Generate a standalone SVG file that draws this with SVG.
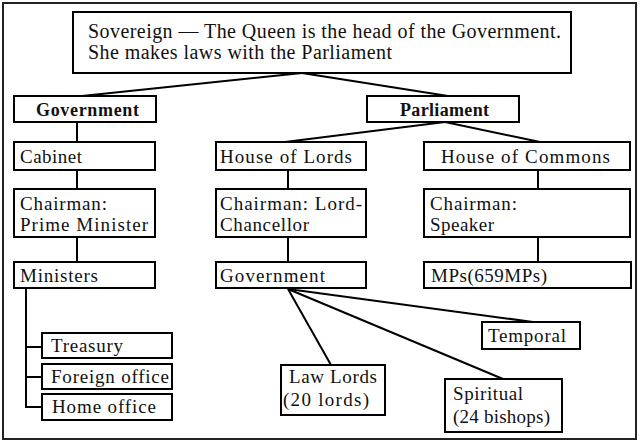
<svg xmlns="http://www.w3.org/2000/svg" width="640" height="447" viewBox="0 0 640 447">
<style>
.b{fill:#fff;stroke:#000;stroke-width:2}
.t{font-family:"Liberation Serif","Times New Roman",serif;font-size:19px;fill:#111}
.h{font-family:"Liberation Serif","Times New Roman",serif;font-size:18px;font-weight:bold;fill:#111}
.s{font-family:"Liberation Serif","Times New Roman",serif;font-size:20px;fill:#111}
.c{stroke:#000;stroke-width:2;fill:none}
</style>
<rect x="0" y="0" width="640" height="447" fill="#fff"/>
<rect x="3" y="3" width="633" height="436" fill="none" stroke="#222" stroke-width="2"/>
<g id="connectors">
<line class="c" x1="302" y1="73" x2="82" y2="96"/>
<line class="c" x1="302" y1="73" x2="448" y2="96"/>
<line class="c" x1="77" y1="122" x2="77" y2="142"/>
<line class="c" x1="445" y1="122" x2="285" y2="142"/>
<line class="c" x1="445" y1="122" x2="540" y2="142"/>
<line class="c" x1="77" y1="170" x2="77" y2="189"/>
<line class="c" x1="288" y1="170" x2="288" y2="189"/>
<line class="c" x1="538" y1="170" x2="538" y2="189"/>
<line class="c" x1="77" y1="237" x2="77" y2="262"/>
<line class="c" x1="288" y1="237" x2="288" y2="262"/>
<line class="c" x1="538" y1="237" x2="538" y2="262"/>
<polyline class="c" points="26,288 26,407 42,407"/>
<line class="c" x1="26" y1="347" x2="42" y2="347"/>
<line class="c" x1="26" y1="377" x2="42" y2="377"/>
<line class="c" x1="288" y1="289" x2="331" y2="365"/>
<line class="c" x1="288" y1="289" x2="503" y2="379"/>
<line class="c" x1="288" y1="289" x2="533" y2="322"/>
</g>
<g id="sovereign"><rect class="b" x="73" y="12" width="498" height="61"/>
<text class="s" x="88" y="38" textLength="473">Sovereign — The Queen is the head of the Government.</text>
<text class="s" x="88" y="59" textLength="304">She makes laws with the Parliament</text></g>
<g id="government"><rect class="b" x="14" y="96" width="142" height="26"/>
<text class="h" x="36" y="116" textLength="103">Government</text></g>
<g id="parliament"><rect class="b" x="367" y="96" width="152" height="26"/>
<text class="h" x="400" y="116" textLength="89">Parliament</text></g>
<g id="cabinet"><rect class="b" x="14" y="142" width="141" height="28"/>
<text class="t" x="20" y="163" textLength="62">Cabinet</text></g>
<g id="house-of-lords"><rect class="b" x="216" y="142" width="150" height="28"/>
<text class="t" x="220" y="163" textLength="132">House of Lords</text></g>
<g id="house-of-commons"><rect class="b" x="424" y="142" width="206" height="28"/>
<text class="t" x="441" y="163" textLength="169">House of Commons</text></g>
<g id="prime-minister"><rect class="b" x="14" y="189" width="141" height="48"/>
<text class="t" x="20" y="210" textLength="87">Chairman:</text>
<text class="t" x="20" y="231" textLength="128">Prime Minister</text></g>
<g id="lord-chancellor"><rect class="b" x="216" y="189" width="150" height="48"/>
<text class="t" x="220" y="210" textLength="142">Chairman: Lord-</text>
<text class="t" x="220" y="231" textLength="89">Chancellor</text></g>
<g id="speaker"><rect class="b" x="424" y="189" width="206" height="48"/>
<text class="t" x="430" y="210" textLength="87">Chairman:</text>
<text class="t" x="430" y="231" textLength="64">Speaker</text></g>
<g id="ministers"><rect class="b" x="14" y="262" width="141" height="26"/>
<text class="t" x="20" y="282" textLength="78">Ministers</text></g>
<g id="lords-government"><rect class="b" x="216" y="262" width="150" height="26"/>
<text class="t" x="220" y="282" textLength="105">Government</text></g>
<g id="mps"><rect class="b" x="424" y="262" width="207" height="26"/>
<text class="t" x="431" y="282" textLength="116">MPs(659MPs)</text></g>
<g id="treasury"><rect class="b" x="42" y="333" width="130" height="25"/>
<text class="t" x="51" y="352" textLength="72">Treasury</text></g>
<g id="foreign-office"><rect class="b" x="42" y="364" width="130" height="25"/>
<text class="t" x="51" y="383" textLength="118">Foreign office</text></g>
<g id="home-office"><rect class="b" x="42" y="394" width="130" height="26"/>
<text class="t" x="52" y="413" textLength="104">Home office</text></g>
<g id="temporal"><rect class="b" x="482" y="322" width="98" height="27"/>
<text class="t" x="488" y="342" textLength="78">Temporal</text></g>
<g id="law-lords"><rect class="b" x="281" y="365" width="104" height="50"/>
<text class="t" x="289" y="383" textLength="88">Law Lords</text>
<text class="t" x="283" y="406" textLength="86">(20 lords)</text></g>
<g id="spiritual"><rect class="b" x="445" y="379" width="117" height="53"/>
<text class="t" x="453" y="400" textLength="70">Spiritual</text>
<text class="t" x="453" y="423" textLength="97">(24 bishops)</text></g>
</svg>
